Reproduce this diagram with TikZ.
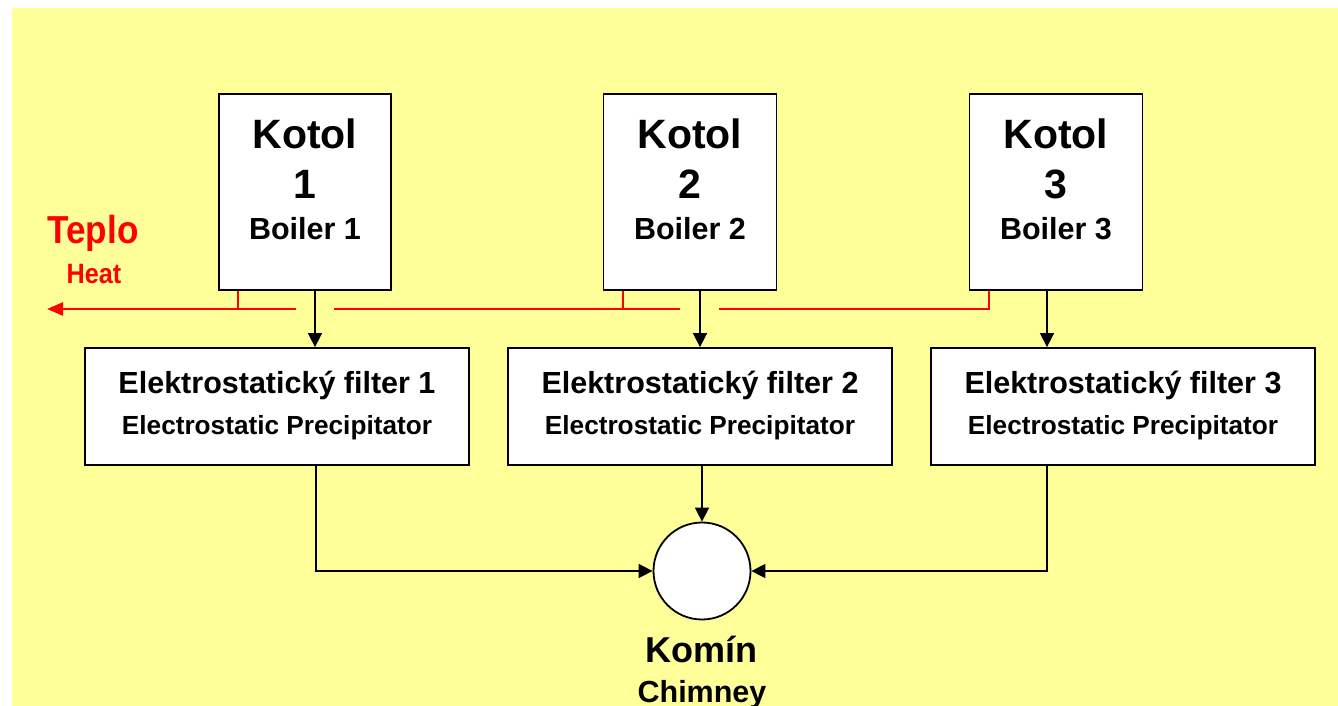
\documentclass[tikz,border=0pt]{standalone}
\usepackage{fontspec}
\setmainfont{Liberation Sans}
\usetikzlibrary{arrows.meta}
\definecolor{bg}{RGB}{255,255,153}
\definecolor{heatred}{RGB}{255,0,0}
\newcommand{\fsz}[1]{\fontsize{#1}{#1}\selectfont}
\begin{document}
\begin{tikzpicture}[x=1pt,y=-1pt,
  box/.style={draw=black, line width=1.8pt, fill=white, inner sep=0pt},
  flow/.style={draw=black, line width=1.6pt, -{Triangle[length=14pt,width=14pt]}},
  heat/.style={draw=heatred, line width=2.6pt},
  lbl/.style={inner sep=0pt, anchor=base, font=\bfseries},
  big/.style={lbl, font=\bfseries\fsz{41}},
  mid/.style={lbl, font=\bfseries\fsz{30.5}},
  small/.style={lbl, font=\bfseries\fsz{26.2}}]
\useasboundingbox (0,0) rectangle (1338,706);
\fill[bg] (12,8) rectangle (1338,706);

% boilers
\node[box, minimum width=172pt, minimum height=196pt] (b1) at (305,192) {};
\node[box, minimum width=173pt, minimum height=196pt] (b2) at (690,192) {};
\node[box, minimum width=173pt, minimum height=196pt] (b3) at (1056,192) {};
% filters
\node[box, minimum width=384pt, minimum height=117pt] (f1) at (277,406.5) {};
\node[box, minimum width=384pt, minimum height=117pt] (f2) at (700,406.5) {};
\node[box, minimum width=384pt, minimum height=117pt] (f3) at (1123,406.5) {};
% chimney
\node[box, circle, minimum size=97pt] (ch) at (702,571) {};

% texts in boilers
\node[big] (k1) at (305,148) {Kotol};
\node[big] (n1) at (305,198) {1};
\node[mid] (e1) at (305,239) {Boiler 1};
\node[big] (k2) at (690,148) {Kotol};
\node[big] (n2) at (690,198) {2};
\node[mid] (e2) at (690,239) {Boiler 2};
\node[big] (k3) at (1056,148) {Kotol};
\node[big] (n3) at (1056,198) {3};
\node[mid] (e3) at (1056,239) {Boiler 3};

% texts in filters
\node[mid] (fe1) at (277,393) {Elektrostatický filter 1};
\node[small] (fp1) at (277,434) {Electrostatic Precipitator};
\node[mid] (fe2) at (700,393) {Elektrostatický filter 2};
\node[small] (fp2) at (700,434) {Electrostatic Precipitator};
\node[mid] (fe3) at (1123,393) {Elektrostatický filter 3};
\node[small] (fp3) at (1123,434) {Electrostatic Precipitator};

% chimney labels
\node[lbl, font=\bfseries\fsz{36}] (km) at (701,662) {Komín};
\node[lbl, font=\bfseries\fsz{30.5}] (chl) at (702,702) {Chimney};

% heat labels
\node[lbl, text=heatred, font=\bfseries\fsz{39}] (tp) at (93,243) {\scalebox{0.9}[1]{Teplo}};
\node[lbl, text=heatred, font=\bfseries\fsz{28}] (ht) at (94,283) {\scalebox{0.9}[1]{Heat}};

% flow arrows boiler -> filter
\draw[flow] ([xshift=10pt]b1.south) -- ([xshift=10pt]b1.south |- f1.north);
\draw[flow] ([xshift=10pt]b2.south) -- ([xshift=10pt]b2.south |- f2.north);
\draw[flow] ([xshift=-9pt]b3.south) -- ([xshift=-9pt]b3.south |- f3.north);
% filter -> chimney
\draw[flow] ([xshift=39pt]f1.south) |- (ch.west);
\draw[flow] (f2.south -| ch.north) -- (ch.north);
\draw[flow] ([xshift=-76pt]f3.south) |- (ch.east);

% heat lines
\coordinate (hL) at (47,309);
\coordinate (h1e) at (296,309);
\coordinate (h2s) at (334,309);
\coordinate (h2e) at (680,309);
\coordinate (h3s) at (719,309);
\draw[heat, -{Triangle[length=16pt,width=13pt]}] (h1e) -- (hL);
\draw[heat] ([xshift=-67pt]b1.south) -- ([xshift=-67pt]b1.south |- hL);
\draw[heat] (h2s) -- (h2e);
\draw[heat] ([xshift=-67pt]b2.south) -- ([xshift=-67pt]b2.south |- hL);
\draw[heat] (h3s) -| ([xshift=-67pt]b3.south);
\end{tikzpicture}
\end{document}
